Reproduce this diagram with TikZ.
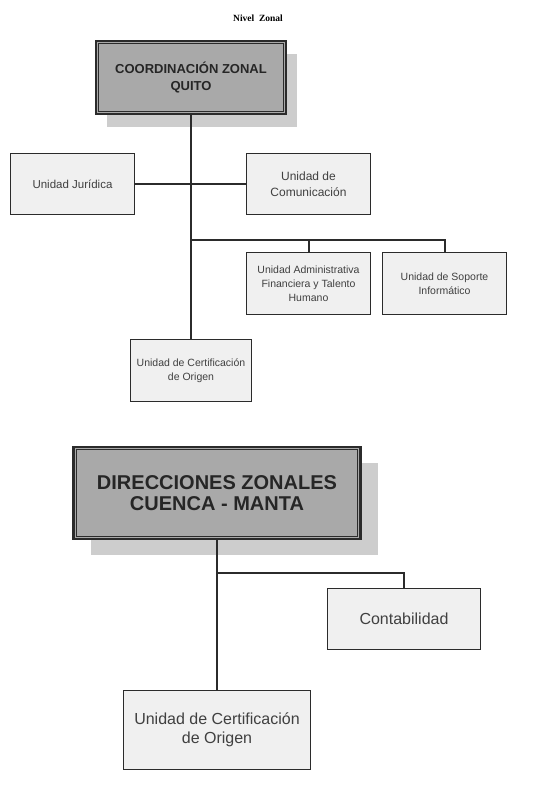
\documentclass[tikz,border=0pt]{standalone}
\usepackage{fontspec}
\setmainfont{Liberation Sans}
\newfontfamily\nivelfont{Liberation Serif}
\usetikzlibrary{
  shadows, % For the grey drop shadows
  calc % For coordinate calculations
}
\definecolor{jefegris}{HTML}{A9A9A9}
\definecolor{sombragris}{HTML}{CDCDCD}
\definecolor{unidadgris}{HTML}{F0F0F0}
\definecolor{linea}{HTML}{2B2B2B}

\begin{document}
\begin{tikzpicture}[
      x=1pt, y=-1pt, % Pixel-like units, y downwards
      jefe/.style={draw=linea, line width=2.4pt, fill=jefegris, align=center,
        inner sep=0pt, font=\bfseries, text=black!85}, % Style for head boxes
      unidad/.style={draw=linea, line width=1.8pt, fill=unidadgris, align=center,
        inner sep=0pt, text=black!75}, % Style for unit boxes
      enlace/.style={linea, line width=2pt}, % Style for connectors
    ]
    \useasboundingbox (0,0) rectangle (559,787);

    % Titel
    \node (nivel) at (258,18) {\nivelfont\bfseries\fontsize{9.5}{11}\selectfont Nivel\ \ Zonal};

    % Coordinacion Zonal Quito
    \node[jefe, minimum width=190pt, minimum height=73pt,
      drop shadow={shadow xshift=11pt, shadow yshift=-12.5pt, fill=sombragris, opacity=1},
      font=\bfseries\fontsize{13}{17.5}\selectfont] (quito) at (191,77.5)
      {COORDINACIÓN ZONAL\\QUITO};
    \draw[linea, line width=0.8pt] ([shift={(4pt,-4pt)}]quito.north west)
      rectangle ([shift={(-4pt,4pt)}]quito.south east);

    \node[unidad, minimum width=124pt, minimum height=61pt,
      font=\fontsize{11.5}{15}\selectfont] (juridica) at (72.5,184) {Unidad Jurídica};
    \node[unidad, minimum width=124pt, minimum height=61pt,
      font=\fontsize{12}{16.5}\selectfont] (comunic) at (308.5,184) {Unidad de\\Comunicación};
    \node[unidad, minimum width=124pt, minimum height=62pt,
      font=\fontsize{10.5}{14}\selectfont] (admin) at (308.5,283.5)
      {Unidad Administrativa\\Financiera y Talento\\Humano};
    \node[unidad, minimum width=124pt, minimum height=62pt,
      font=\fontsize{10.5}{14}\selectfont] (soporte) at (444.5,283.5)
      {Unidad de Soporte\\Informático};
    \node[unidad, minimum width=121pt, minimum height=62pt,
      font=\fontsize{10.5}{13.5}\selectfont] (certif) at (191,370.5)
      {Unidad de Certificación\\de Origen};

    % Verbindungen oben
    \coordinate (ramaA) at ($(quito.south)+(0,125)$);
    \draw[enlace] (quito.south) -- (certif.north);
    \draw[enlace] (juridica.east) -- (comunic.west);
    \draw[enlace] (ramaA) -- (soporte.north |- ramaA) -- (soporte.north);
    \draw[enlace] (admin.north |- ramaA) -- (admin.north);

    % Direcciones Zonales Cuenca - Manta
    \node[jefe, minimum width=287pt, minimum height=92pt,
      drop shadow={shadow xshift=17.5pt, shadow yshift=-16pt, fill=sombragris, opacity=1},
      font=\bfseries\fontsize{20}{20.5}\selectfont] (cuenca) at (217,493)
      {DIRECCIONES ZONALES\\CUENCA - MANTA};
    \draw[linea, line width=0.8pt] ([shift={(4pt,-4pt)}]cuenca.north west)
      rectangle ([shift={(-4pt,4pt)}]cuenca.south east);

    \node[unidad, minimum width=153pt, minimum height=61pt,
      font=\fontsize{16}{19.5}\selectfont] (contab) at (404,619) {Contabilidad};
    \node[unidad, minimum width=187pt, minimum height=79pt,
      font=\fontsize{16}{19.5}\selectfont] (certifB) at (217,730)
      {Unidad de Certificación\\de Origen};

    % Verbindungen unten
    \coordinate (ramaB) at ($(cuenca.south)+(0,33)$);
    \draw[enlace] (cuenca.south) -- (certifB.north);
    \draw[enlace] (ramaB) -- (contab.north |- ramaB) -- (contab.north);
  \end{tikzpicture}
\end{document}
